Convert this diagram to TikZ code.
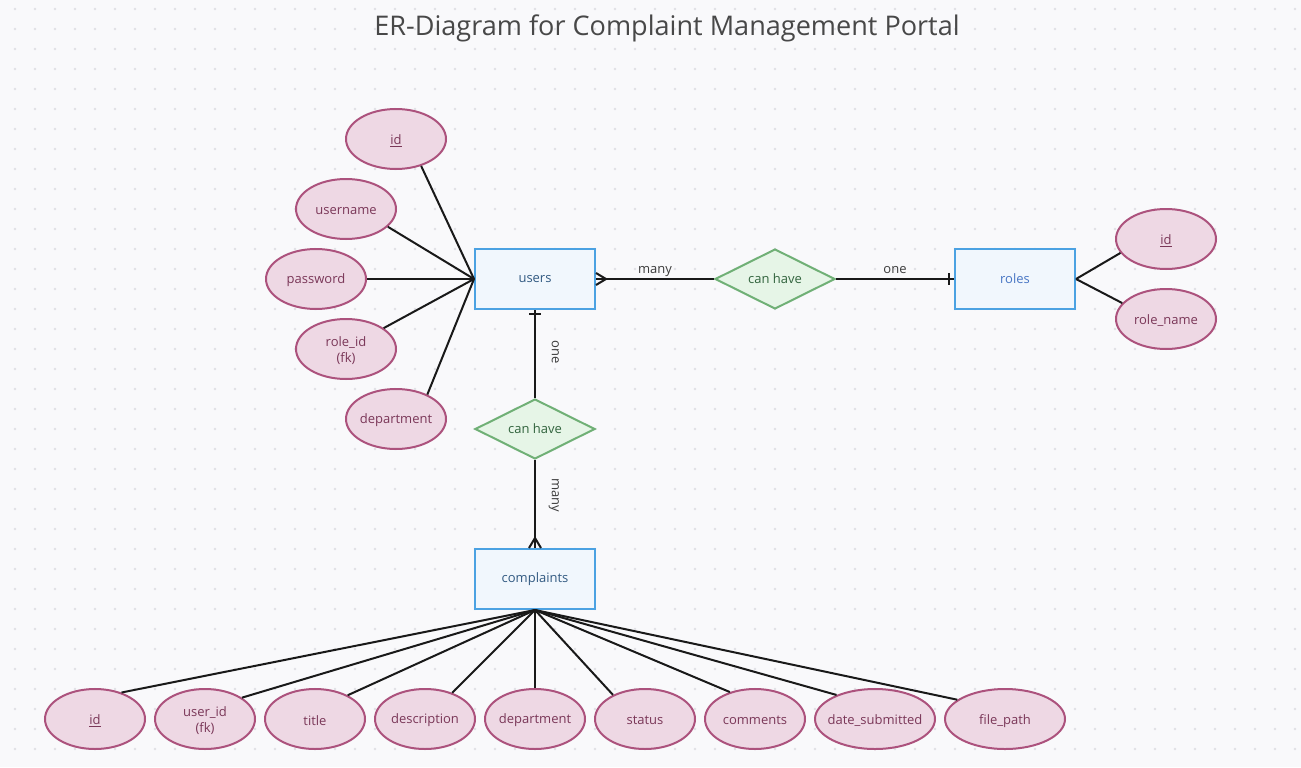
\documentclass[tikz,border=0pt]{standalone}
\usepackage{fontspec}
\setmainfont{Open Sans}
\usetikzlibrary{shapes.geometric,calc}
\definecolor{bgc}{RGB}{249,249,251}
\definecolor{dotc}{RGB}{224,224,228}
\definecolor{attrfill}{RGB}{238,216,228}
\definecolor{attrdraw}{RGB}{172,82,125}
\definecolor{attrtext}{RGB}{122,55,88}
\definecolor{entfill}{RGB}{241,247,253}
\definecolor{entdraw}{RGB}{76,162,226}
\definecolor{enttext}{RGB}{50,90,130}
\definecolor{enttextb}{RGB}{72,118,196}
\definecolor{relfill}{RGB}{230,245,231}
\definecolor{reldraw}{RGB}{112,176,118}
\definecolor{reltext}{RGB}{50,100,62}
\definecolor{linec}{RGB}{25,25,25}
\definecolor{titlec}{RGB}{72,72,72}
\definecolor{labc}{RGB}{60,60,60}
\tikzset{
  nfont/.style={font=\fontsize{9.75}{12}\selectfont},
  attrlab/.style={text=attrtext,nfont,align=center,inner sep=0pt,yshift=-1.2pt},
  attr/.style={ellipse,draw=attrdraw,fill=attrfill,line width=1.5pt,minimum width=75pt,minimum height=45pt,inner sep=0pt,label={[attrlab]center:#1}},
  wattr/.style={attr={#1},minimum width=90pt},
  entity/.style={rectangle,draw=entdraw,fill=entfill,line width=1.5pt,minimum width=90pt,minimum height=45pt,inner sep=0pt,text=enttext,nfont},
  rel/.style={diamond,draw=reldraw,fill=relfill,line width=1.5pt,minimum width=90pt,minimum height=45pt,aspect=2,inner sep=0pt,text=reltext,nfont},
  conn/.style={draw=linec,line width=1.5pt},
  lab/.style={text=labc,nfont,inner sep=0pt,text depth=2.2pt}
}
\begin{document}
\begin{tikzpicture}[x=0.75pt,y=-0.75pt]
\fill[bgc] (0,0) rectangle (1301,767);
\useasboundingbox (0,0) rectangle (1301,767);
\foreach \i in {15,35,...,1295}{\foreach \j in {9,29,...,765}{\fill[dotc] (\i,\j) circle (1.05pt);}}
\node[text=titlec,font=\fontsize{20.3}{24}\selectfont] (title) at (667,28) {ER-Diagram for Complaint Management Portal};
% relationships
\node[rel] (r1) at (775,279) {can have};
\node[rel] (r2) at (535,429) {can have};
% user attributes
\node[attr={\underline{id}}] (uid) at (396,139) {};
\node[attr={username}] (uname) at (346,209) {};
\node[attr={password}] (upass) at (316,279) {};
\node[attr={role\_id\\(fk)}] (urole) at (346,349) {};
\node[attr={department}] (udept) at (396,419) {};
% role attributes
\node[attr={\underline{id}}] (rid) at (1166,239) {};
\node[attr={role\_name}] (rname) at (1166,319) {};
% complaint attributes
\node[attr={\underline{id}}] (cid) at (95,719) {};
\node[attr={user\_id\\(fk)}] (cuser) at (205,719) {};
\node[attr={title}] (ctitle) at (315,719) {};
\node[attr={description}] (cdesc) at (425,719) {};
\node[attr={department}] (cdept) at (535,719) {};
\node[attr={status}] (cstat) at (645,719) {};
\node[attr={comments}] (ccomm) at (755,719) {};
\node[wattr={date\_submitted}] (cdate) at (875,719) {};
\node[wattr={file\_path}] (cfile) at (1005,719) {};
% entities
\node[entity] (users) at (535,279) {users};
\node[entity,text=enttextb] (roles) at (1015,279) {roles};
\node[entity] (complaints) at (535,579) {complaints};
% attribute connectors
\draw[conn] (uid.-47) -- (users.west);
\draw[conn] (uname.-23) -- (users.west);
\draw[conn] (upass.0) -- (users.west);
\draw[conn] (urole.29) -- (users.west);
\draw[conn] (udept.38) -- (users.west);
\draw[conn] (rid.197) -- (roles.east);
\draw[conn] (rname.160) -- (roles.east);
\draw[conn] (cid.45) -- (complaints.south);
\draw[conn] (cuser.30) -- (complaints.south);
\draw[conn] (ctitle.36) -- (complaints.south);
\draw[conn] (cdesc.44) -- (complaints.south);
\draw[conn] (cdept.90) -- (complaints.south);
\draw[conn] (cstat.143) -- (complaints.south);
\draw[conn] (ccomm.133) -- (complaints.south);
\draw[conn] (cdate.148) -- (complaints.south);
\draw[conn] (cfile.158) -- (complaints.south);
% relationship connectors
\draw[conn] (users.east) -- node[lab,above=1.2pt] {many} (r1.west);
\draw[conn] ($(users.east)+(10,0)$) -- ($(users.east)+(0,-6)$);
\draw[conn] ($(users.east)+(10,0)$) -- ($(users.east)+(0,6)$);
\draw[conn] (r1.east) -- node[lab,above=1.2pt] {one} (roles.west);
\draw[conn] ($(roles.west)+(-5,-6)$) -- ($(roles.west)+(-5,6)$);
\draw[conn] (users.south) -- (r2.north);
\draw[conn] ($(users.south)+(-6,4)$) -- ($(users.south)+(6,4)$);
\node[lab,rotate=-90] (lone) at (554,352) {one};
\draw[conn] (r2.south) -- (complaints.north);
\draw[conn] ($(complaints.north)+(0,-10)$) -- ($(complaints.north)+(-6,0)$);
\draw[conn] ($(complaints.north)+(0,-10)$) -- ($(complaints.north)+(6,0)$);
\node[lab,rotate=-90] (lmany) at (554,495) {many};
\end{tikzpicture}
\end{document}
